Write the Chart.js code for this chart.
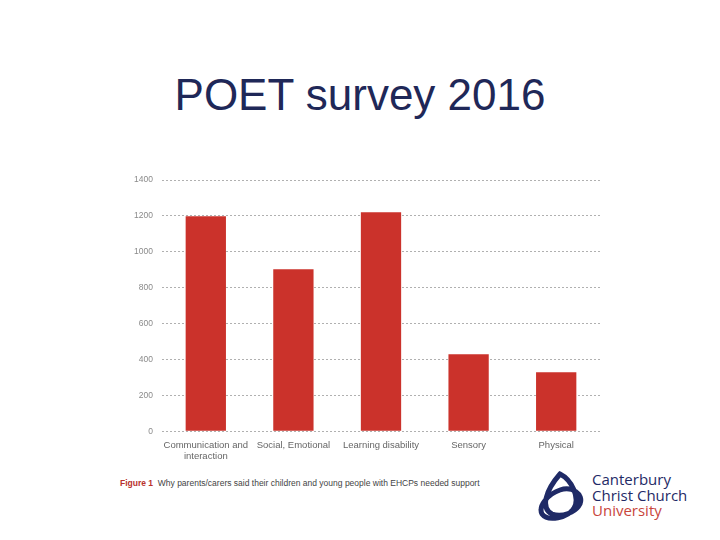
<!DOCTYPE html>
<html>
<head>
<meta charset="utf-8">
<script src="https://cdn.jsdelivr.net/npm/chart.js@4.4.1/dist/chart.umd.min.js"></script>
<style>
    body { margin: 0; width: 720px; height: 540px; background: #fff; position: relative; overflow: hidden; font-family: "Liberation Sans", Arial, sans-serif; }
    h1 { position: absolute; left: 0; width: 720px; top: 70px; margin: 0; text-align: center; font-weight: normal; font-size: 44px; color: #1f2858; }
    .chart-box { position: absolute; left: 110px; top: 166px; width: 495px; height: 296px; }
    .caption { position: absolute; left: 120px; top: 478px; font-size: 8.5px; color: #444; }
    .caption b { color: #b8322c; }
    .logo { position: absolute; left: 532px; top: 468px; }
    .logo-text { position: absolute; left: 592px; top: 472px; font-family: "Open Sans", sans-serif; font-size: 15px; line-height: 15.5px; color: #1f2a66; }
    .logo-text .uni { color: #c8463c; }
</style>
</head>
<body>
<h1>POET survey 2016</h1>
<div class="chart-box"><canvas id="needsChart"></canvas></div>
<div class="caption"><b>Figure 1</b>&nbsp; Why parents/carers said their children and young people with EHCPs needed support</div>
<svg class="logo" width="56" height="56" viewBox="0 0 56 56">
    <g fill="none" stroke="#1f2a66" stroke-width="5">
        <path d="M28 6 C14 22 8 40 20 46 C30 50 44 44 48 36 C52 26 40 18 28 22 C16 26 6 38 10 46 C16 54 36 50 42 40 C48 30 40 12 28 6 Z"/>
    </g>
</svg>
<div class="logo-text">Canterbury<br>Christ Church<br><span class="uni">University</span></div>
<script>
const categories = [['Communication and', 'interaction'], 'Social, Emotional', 'Learning disability', 'Sensory', 'Physical'];
const pupils = [1198, 903, 1221, 429, 329];
const yTicks = [0, 200, 400, 600, 800, 1000, 1200, 1400];

document.addEventListener('DOMContentLoaded', function() {
    const ctx = document.getElementById('needsChart').getContext('2d');
    new Chart(ctx, {
        type: 'bar',
        data: {
            labels: categories,
            datasets: [{
                data: pupils,
                backgroundColor: '#cb322b',
                barPercentage: 0.46,
                categoryPercentage: 1
            }]
        },
        options: {
            responsive: true,
            maintainAspectRatio: false,
            animation: false,
            layout: { padding: { top: 6, right: 5 } },
            plugins: {
                legend: { display: false },
                tooltip: { enabled: false }
            },
            scales: {
                y: {
                    min: 0,
                    max: 1400,
                    afterBuildTicks: axis => { axis.ticks = yTicks.map(v => ({ value: v })); },
                    afterFit: axis => { axis.width = 52; },
                    border: { display: false, dash: [2, 2] },
                    grid: {
                        color: '#b0b0b0',
                        lineWidth: 1,
                        drawTicks: false
                    },
                    ticks: {
                        color: '#8a8a8a',
                        padding: 9,
                        callback: v => String(v),
                        font: { family: 'Liberation Sans', size: 8.5 }
                    }
                },
                x: {
                    border: { display: false },
                    grid: { display: false },
                    ticks: {
                        color: '#666',
                        maxRotation: 0,
                        autoSkip: false,
                        padding: 0,
                        font: { family: 'Liberation Sans', size: 9.5 }
                    }
                }
            }
        }
    });
});
</script>
</body>
</html>
